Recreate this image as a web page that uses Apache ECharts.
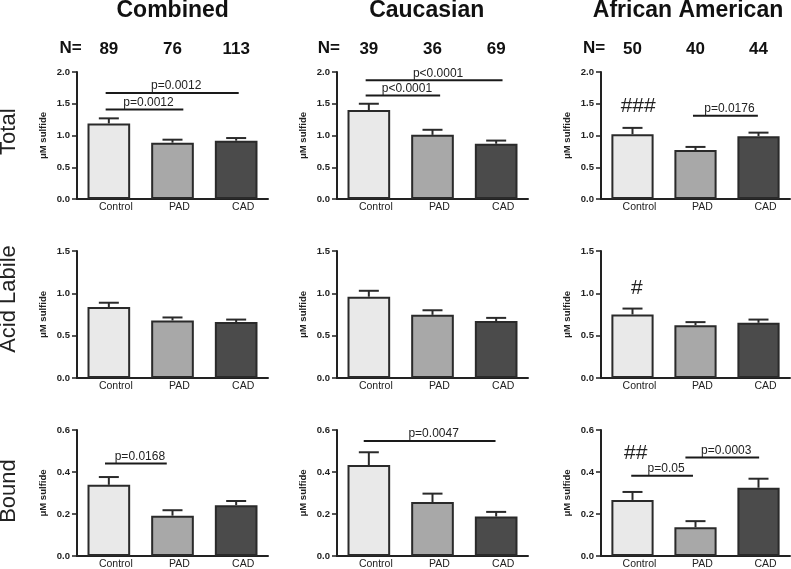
<!DOCTYPE html>
<html>
<head>
<meta charset="utf-8">
<script src="https://cdn.jsdelivr.net/npm/echarts@6/dist/echarts.min.js"></script>
<style>
html,body{margin:0;padding:0;background:#fff;}
#chart{width:791px;height:569px;}
</style>
</head>
<body>
<div id="chart"></div>
<script>
// ---------- data ----------
const categories = ['Control', 'PAD', 'CAD'];
const columnTitles = ['Combined', 'Caucasian', 'African American'];
const rowLabels = ['Total', 'Acid Labile', 'Bound'];
const nCombined = [89, 76, 113];
const nCaucasian = [39, 36, 69];
const nAfricanAmerican = [50, 40, 44];

const totalCombined = [1.19, 0.887, 0.918];
const totalCombinedSem = [0.08, 0.047, 0.042];
const totalCaucasian = [1.40, 1.01, 0.87];
const totalCaucasianSem = [0.10, 0.08, 0.05];
const totalAfricanAmerican = [1.02, 0.77, 0.99];
const totalAfricanAmericanSem = [0.10, 0.05, 0.055];

const acidCombined = [0.838, 0.68, 0.66];
const acidCombinedSem = [0.051, 0.035, 0.03];
const acidCaucasian = [0.96, 0.746, 0.672];
const acidCaucasianSem = [0.07, 0.054, 0.038];
const acidAfricanAmerican = [0.75, 0.624, 0.652];
const acidAfricanAmericanSem = [0.07, 0.036, 0.038];

const boundCombined = [0.339, 0.192, 0.242];
const boundCombinedSem = [0.037, 0.026, 0.02];
const boundCaucasian = [0.433, 0.257, 0.188];
const boundCaucasianSem = [0.061, 0.04, 0.022];
const boundAfricanAmerican = [0.267, 0.137, 0.325];
const boundAfricanAmericanSem = [0.038, 0.029, 0.043];

const yMaxByRow = [2.0, 1.5, 0.6];
const yIntervalByRow = [0.5, 0.5, 0.2];

// significance bars: [column, fromCat, toCat, y, label]
const sigTotal = [
  [0, -0.05, 2.04, 1.67, 'p=0.0012'],
  [0, -0.05, 1.17, 1.41, 'p=0.0012'],
  [1, -0.05, 2.10, 1.87, 'p<0.0001'],
  [1, -0.05, 1.12, 1.63, 'p<0.0001'],
  [2, 0.96, 1.99, 1.31, 'p=0.0176']
];
const sigAcid = [];
const sigBound = [
  [0, -0.06, 0.91, 0.44, 'p=0.0168'],
  [1, -0.08, 1.99, 0.548, 'p=0.0047'],
  [2, -0.02, 0.96, 0.382, 'p=0.05'],
  [2, 0.84, 2.01, 0.469, 'p=0.0003']
];
// hash marks: [row, column, cat, y, label]
const hashMarks = [
  [0, 2, 0.09, 1.46, '###'],
  [1, 2, 0.07, 1.06, '#'],
  [2, 2, 0.05, 0.488, '##']
];

// ---------- layout ----------
const means = [
  [totalCombined, totalCaucasian, totalAfricanAmerican],
  [acidCombined, acidCaucasian, acidAfricanAmerican],
  [boundCombined, boundCaucasian, boundAfricanAmerican]
];
const sems = [
  [totalCombinedSem, totalCaucasianSem, totalAfricanAmericanSem],
  [acidCombinedSem, acidCaucasianSem, acidAfricanAmericanSem],
  [boundCombinedSem, boundCaucasianSem, boundAfricanAmericanSem]
];
const nByCol = [nCombined, nCaucasian, nAfricanAmerican];
const sigByRow = [sigTotal, sigAcid, sigBound];

const colBox = [{left: 77, width: 191}, {left: 337, width: 191}, {left: 601, width: 189}];
const rowBox = [{top: 72, height: 127}, {top: 251, height: 127}, {top: 430, height: 126}];
const barColors = ['#e9e9e9', '#a8a8a8', '#4b4b4b'];
const FONT = 'Liberation Sans, Arial, sans-serif';
const INK = '#222';

const grids = [], xAxes = [], yAxes = [], series = [];
let xi = 0;
for (let r = 0; r < 3; r++) {
  for (let c = 0; c < 3; c++) {
    const g = r * 3 + c;
    grids.push({
      left: colBox[c].left, width: colBox[c].width,
      top: rowBox[r].top, height: rowBox[r].height,
      outerBoundsMode: 'none'
    });
    const bottomIdx = xi++;
    xAxes.push({
      type: 'category', gridIndex: g, data: categories, position: 'bottom',
      axisLine: {show: true, lineStyle: {color: INK, width: 2}},
      axisTick: {show: false},
      axisLabel: {color: INK, fontSize: 10.5, fontFamily: FONT, margin: 3, padding: [0, 0, 0, 14]}
    });
    if (r === 0) {
      xi++;
      xAxes.push({
        type: 'category', gridIndex: g, data: nByCol[c].map(String), position: 'top',
        axisLine: {show: false}, axisTick: {show: false}, splitLine: {show: false},
        axisLabel: {color: '#111', fontSize: 17, fontWeight: 'bold', fontFamily: FONT, margin: 14}
      });
    }
    yAxes.push({
      type: 'value', gridIndex: g, min: 0, max: yMaxByRow[r], interval: yIntervalByRow[r],
      axisLine: {show: true, lineStyle: {color: INK, width: 2}},
      axisTick: {show: true, length: 5, lineStyle: {color: INK, width: 1.5}},
      splitLine: {show: false},
      axisLabel: {color: INK, fontSize: 9.5, fontWeight: 'bold', fontFamily: FONT, margin: 7,
        formatter: v => v.toFixed(1)},
      name: 'μM sulfide', nameLocation: 'middle', nameGap: 29,
      nameTextStyle: {color: INK, fontSize: 9.5, fontWeight: 'bold', fontFamily: FONT}
    });
    series.push({
      type: 'bar', xAxisIndex: bottomIdx, yAxisIndex: g, barWidth: '67%',
      data: means[r][c].map((v, i) => ({value: v, itemStyle: {color: barColors[i]}})),
      itemStyle: {borderColor: '#2a2a2a', borderWidth: 2},
      silent: true, z: 2
    });
    const errData = means[r][c].map((v, i) => [i, v, sems[r][c][i]]);
    series.push({
      type: 'custom', xAxisIndex: bottomIdx, yAxisIndex: g, clip: false, z: 3, silent: true,
      data: errData,
      encode: {x: 0, y: 1},
      renderItem: function (params, api) {
        const i = api.value(0), m = api.value(1), e = api.value(2);
        const p0 = api.coord([i, m]);
        const p1 = api.coord([i, m + e]);
        const half = 10;
        return {type: 'group', children: [
          {type: 'line', shape: {x1: p0[0], y1: p0[1], x2: p1[0], y2: p1[1]}, style: {stroke: '#2a2a2a', lineWidth: 2}},
          {type: 'line', shape: {x1: p1[0] - half, y1: p1[1], x2: p1[0] + half, y2: p1[1]}, style: {stroke: '#2a2a2a', lineWidth: 2}}
        ]};
      }
    });
    const sigs = sigByRow[r].filter(s => s[0] === c);
    if (sigs.length) {
      series.push({
        type: 'custom', xAxisIndex: bottomIdx, yAxisIndex: g, clip: false, z: 4, silent: true,
        data: sigs.map(s => [0, s[3]]),
        encode: {x: 0, y: 1},
        renderItem: function (params, api) {
          const s = sigs[params.dataIndex];
          const base = api.coord([0, s[3]]);
          const bw = api.size([1, 0])[0];
          const xa = base[0] + s[1] * bw, xb = base[0] + s[2] * bw;
          return {type: 'group', children: [
            {type: 'line', shape: {x1: xa, y1: base[1], x2: xb, y2: base[1]}, style: {stroke: '#1a1a1a', lineWidth: 2}},
            {type: 'text', x: (xa + xb) / 2 + 4, y: base[1] - 1,
              style: {text: s[4], fill: '#222', font: '12px ' + FONT, align: 'center', verticalAlign: 'bottom'}}
          ]};
        }
      });
    }
    const hs = hashMarks.filter(h => h[0] === r && h[1] === c);
    if (hs.length) {
      series.push({
        type: 'custom', xAxisIndex: bottomIdx, yAxisIndex: g, clip: false, z: 4, silent: true,
        data: hs.map(h => [0, h[3]]),
        encode: {x: 0, y: 1},
        renderItem: function (params, api) {
          const h = hs[params.dataIndex];
          const base = api.coord([0, h[3]]);
          const bw = api.size([1, 0])[0];
          return {type: 'text', x: base[0] + h[2] * bw, y: base[1],
            style: {text: h[4], fill: '#222', font: '21px ' + FONT, align: 'center', verticalAlign: 'middle'}};
        }
      });
    }
  }
}

const titleX = [172.7, 426.7, 688];
const nLabelX = [70.5, 328.8, 594];
const rowLabelY = [131.7, 299, 491];
const graphics = [];
columnTitles.forEach((t, c) => {
  graphics.push({type: 'text', x: titleX[c], y: 11,
    style: {text: t, fill: '#111', font: 'bold 23px ' + FONT, align: 'center', verticalAlign: 'middle'}});
  graphics.push({type: 'text', x: nLabelX[c], y: 48,
    style: {text: 'N=', fill: '#111', font: 'bold 17px ' + FONT, align: 'center', verticalAlign: 'middle'}});
});
rowLabels.forEach((t, r) => {
  graphics.push({type: 'text', x: 9, y: rowLabelY[r], rotation: Math.PI / 2,
    style: {text: t, fill: '#222', font: '22px ' + FONT, align: 'center', verticalAlign: 'middle'}});
});

const chart = echarts.init(document.getElementById('chart'), null, {renderer: 'canvas'});
chart.setOption({
  animation: false,
  backgroundColor: '#fff',
  grid: grids,
  xAxis: xAxes,
  yAxis: yAxes,
  series: series,
  graphic: graphics
});
</script>
</body>
</html>
